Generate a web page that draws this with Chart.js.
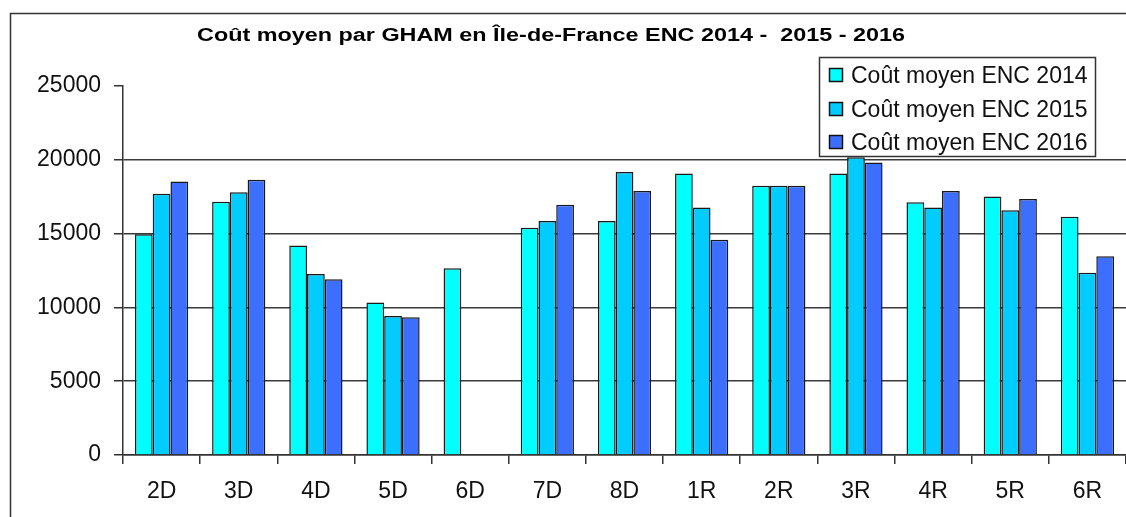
<!DOCTYPE html>
<html lang="fr">
<head>
    <meta charset="UTF-8">
    <title>Coût moyen par GHAM en Île-de-France ENC 2014 - 2015 - 2016</title>
    <script src="https://cdn.jsdelivr.net/npm/chart.js"></script>
    <style>
        html, body { margin: 0; padding: 0; background: #fff; overflow: hidden; }
        .chart-container { position: relative; width: 1126px; height: 517px; }
    </style>
</head>
<body>
    <div class="chart-container">
        <canvas id="ghamChart"></canvas>
    </div>

    <script>
        // Données
        const categories = ['2D', '3D', '4D', '5D', '6D', '7D', '8D', '1R', '2R', '3R', '4R', '5R', '6R'];
        const cout2014 = [14950, 17150, 14200, 10330, 12650, 15390, 15860, 19070, 18240, 19070, 17130, 17510, 16140];
        const cout2015 = [17700, 17800, 12270, 9420, null, 15860, 19170, 16770, 18240, 20180, 16770, 16590, 12340];
        const cout2016 = [18530, 18650, 11900, 9340, null, 16950, 17880, 14580, 18240, 19820, 17880, 17340, 13470];
        const seriesLabels = ['Coût moyen ENC 2014', 'Coût moyen ENC 2015', 'Coût moyen ENC 2016'];
        const yTicks = [0, 5000, 10000, 15000, 20000, 25000];
        const titre = 'Coût moyen par GHAM en Île-de-France ENC 2014 -  2015 - 2016';

        const couleurs = ['#00ffff', '#00ccff', '#3d6fff'];
        const FONT = '"Liberation Sans", Arial, sans-serif';

        // Cadre, titre et légende dessinés à la main
        const decorPlugin = {
            id: 'decor',
            beforeDraw(chart) {
                const ctx = chart.ctx;
                ctx.save();
                ctx.strokeStyle = '#333';
                ctx.lineWidth = 1.5;
                ctx.beginPath();
                ctx.moveTo(10.5, 600);
                ctx.lineTo(10.5, 13.5);
                ctx.lineTo(1200, 13.5);
                ctx.stroke();
                ctx.restore();
            },
            afterDraw(chart) {
                const ctx = chart.ctx;

                // titre (étiré horizontalement comme l'original)
                ctx.save();
                ctx.font = 'bold 18px ' + FONT;
                ctx.fillStyle = '#000';
                const w = ctx.measureText(titre).width;
                ctx.translate(551, 41);
                ctx.scale(708 / w, 1);
                ctx.textAlign = 'center';
                ctx.textBaseline = 'alphabetic';
                ctx.fillText(titre, 0, 0);
                ctx.restore();

                // légende
                ctx.save();
                ctx.fillStyle = '#fff';
                ctx.fillRect(819, 57, 276, 99);
                ctx.strokeStyle = '#333';
                ctx.lineWidth = 1.5;
                ctx.strokeRect(819.5, 57.5, 276, 99);
                ctx.font = '23px ' + FONT;
                ctx.textBaseline = 'alphabetic';
                const baselines = [83, 117, 150];
                chart.data.datasets.forEach((ds, i) => {
                    const yb = baselines[i];
                    ctx.fillStyle = ds.backgroundColor;
                    ctx.fillRect(829.5, yb - 14.5, 13, 13);
                    ctx.strokeStyle = '#111';
                    ctx.lineWidth = 1.5;
                    ctx.strokeRect(829.5, yb - 14.5, 13, 13);
                    ctx.fillStyle = '#111';
                    ctx.fillText(ds.label, 851, yb);
                });
                ctx.restore();
            }
        };

        const ctx = document.getElementById('ghamChart').getContext('2d');
        const ghamChart = new Chart(ctx, {
            type: 'bar',
            data: {
                labels: categories,
                datasets: [cout2014, cout2015, cout2016].map((d, i) => ({
                    label: seriesLabels[i],
                    data: d,
                    backgroundColor: couleurs[i],
                    borderColor: '#1a1a1a',
                    borderWidth: 1.5,
                    barPercentage: 1.0,
                    categoryPercentage: 0.69
                }))
            },
            options: {
                responsive: true,
                maintainAspectRatio: false,
                animation: false,
                layout: { padding: { top: 86, left: 0, right: 0, bottom: 0 } },
                plugins: {
                    legend: { display: false },
                    title: { display: false },
                    tooltip: { enabled: false }
                },
                scales: {
                    x: {
                        grid: {
                            offset: true,
                            drawOnChartArea: false,
                            drawTicks: true,
                            tickLength: 9,
                            color: '#333',
                            lineWidth: 1.5
                        },
                        border: { display: true, color: '#333', width: 1.5 },
                        ticks: {
                            color: '#111',
                            padding: 14,
                            font: { family: FONT, size: 23 }
                        },
                        afterFit(scale) { scale.height = 62; }
                    },
                    y: {
                        min: 0,
                        max: 25000,
                        afterBuildTicks(scale) {
                            scale.ticks = yTicks.map(v => ({ value: v }));
                        },
                        grid: {
                            color: c => (c.tick && c.tick.value === 25000) ? 'rgba(0,0,0,0)' : '#3a3a3a',
                            tickColor: '#333',
                            lineWidth: 1.5,
                            tickLength: 9
                        },
                        border: { display: true, color: '#333', width: 1.5 },
                        ticks: {
                            color: '#111',
                            padding: 13,
                            font: { family: FONT, size: 23 },
                            callback: v => String(v)
                        },
                        afterFit(scale) { scale.width = 123; }
                    }
                }
            },
            plugins: [decorPlugin]
        });
    </script>
</body>
</html>
